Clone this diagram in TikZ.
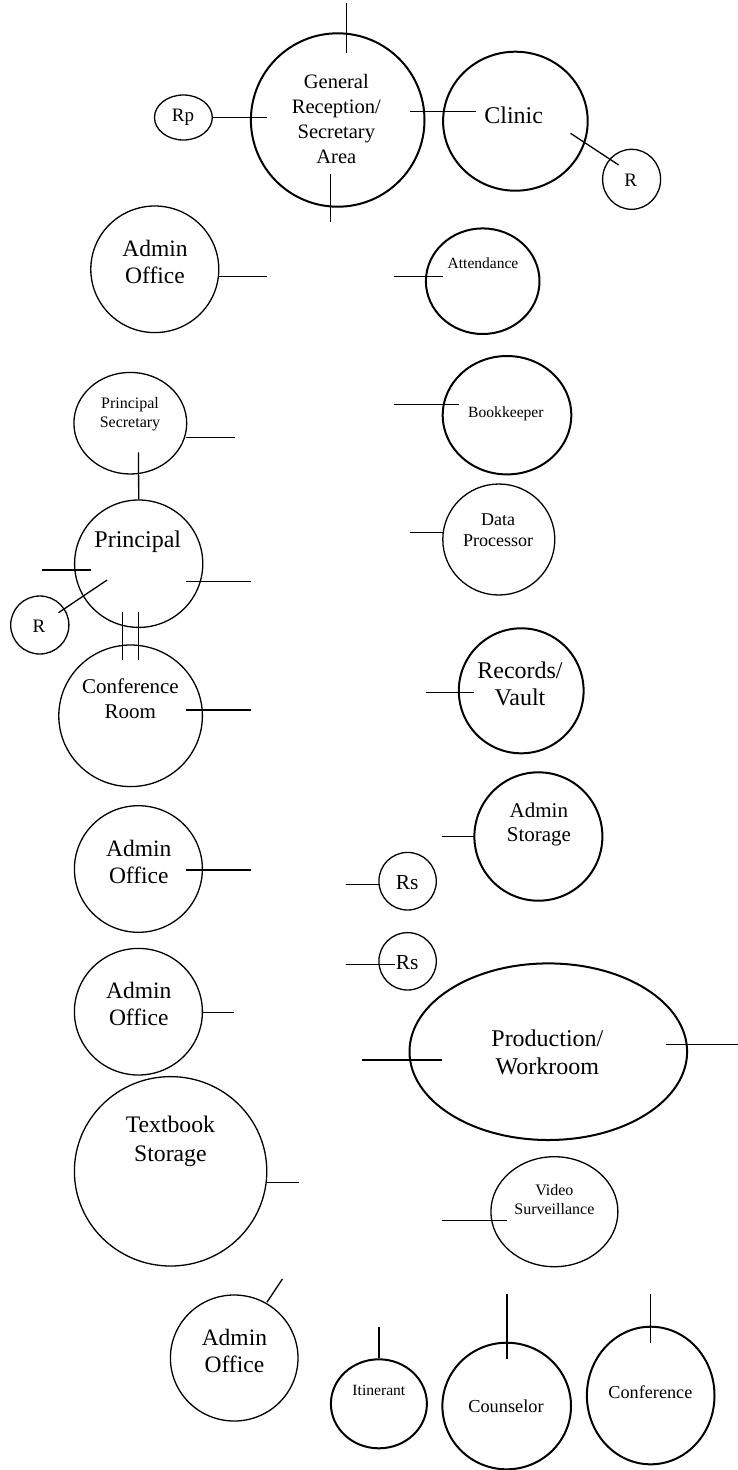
\documentclass[tikz,border=0pt]{standalone}
\usepackage{fontspec}
\setmainfont{Liberation Serif}
\usetikzlibrary{shapes.geometric}
\newcommand{\fs}[2]{\fontsize{#1}{#2}\selectfont}
\begin{document}
\begin{tikzpicture}[x=1pt,y=-1pt,
  room/.style={draw=black,ellipse,inner sep=0pt,line width=1.3pt},
  roomthick/.style={room,line width=2pt},
  txt/.style={align=center,inner sep=0pt,text=black},
  stub/.style={draw=black,line width=1.3pt}]
\useasboundingbox (0,0) rectangle (738,1470);
% --- rooms (ellipses) ---
\node[roomthick,minimum width=173.6pt,minimum height=173.4pt] (gen) at (337.7,120) {};
\node[roomthick,minimum width=144.6pt,minimum height=139pt] (clinic) at (515.4,121.2) {};
\node[room,minimum width=57.8pt,minimum height=45pt] (rp) at (183.4,117.5) {};
\node[room,minimum width=58pt,minimum height=60pt] (rc) at (631.6,179.3) {};
\node[room,minimum width=128pt,minimum height=126.6pt] (ao1) at (154.8,269.3) {};
\node[roomthick,minimum width=113.6pt,minimum height=105.6pt] (att) at (482.7,281.2) {};
\node[room,minimum width=112.8pt,minimum height=101.6pt] (psec) at (130.3,423.2) {};
\node[roomthick,minimum width=128.6pt,minimum height=118.4pt] (book) at (507,415.2) {};
\node[room,minimum width=128.2pt,minimum height=127.4pt] (prin) at (138.7,563.7) {};
\node[room,minimum width=58.2pt,minimum height=58pt] (rpr) at (39.8,625) {};
\node[room,minimum width=112pt,minimum height=111pt] (data) at (498.8,539.5) {};
\node[room,minimum width=143.6pt,minimum height=141.6pt] (conf) at (130.6,715.8) {};
\node[roomthick,minimum width=124.8pt,minimum height=125pt] (rec) at (521.2,690.8) {};
\node[roomthick,minimum width=128pt,minimum height=128.4pt] (astor) at (538.4,836.5) {};
\node[room,minimum width=128pt,minimum height=126.6pt] (ao2) at (138.4,869) {};
\node[room,minimum width=57.4pt,minimum height=57.6pt] (rs1) at (407.6,881.2) {};
\node[room,minimum width=57.4pt,minimum height=57.4pt] (rs2) at (407.6,961.3) {};
\node[room,minimum width=128pt,minimum height=126.6pt] (ao3) at (138.4,1011.7) {};
\node[roomthick,minimum width=277.6pt,minimum height=176.6pt] (prod) at (548.3,1051.7) {};
\node[room,minimum width=192.4pt,minimum height=189.4pt] (tb) at (170.6,1171.3) {};
\node[room,minimum width=127pt,minimum height=110pt] (video) at (554.4,1211.7) {};
\node[room,minimum width=127.6pt,minimum height=126pt] (ao4) at (234.2,1358) {};
\node[roomthick,minimum width=96pt,minimum height=89pt] (itin) at (378.9,1403.8) {};
\node[roomthick,minimum width=128.6pt,minimum height=126.6pt] (couns) at (506.7,1406) {};
\node[roomthick,minimum width=127.6pt,minimum height=137.6pt] (conf2) at (650.7,1395.5) {};
% --- labels ---
\node[txt,font=\fs{20.5}{25}] (gen-t) at (336.3,119.2) {General\\Reception/\\Secretary\\Area};
\node[txt,font=\fs{24}{28}] (clinic-t) at (513.7,115) {Clinic};
\node[txt,font=\fs{19}{22}] (rp-t) at (183,117.5) {Rp};
\node[txt,font=\fs{19}{22}] (rc-t) at (630.8,180) {R};
\node[txt,font=\fs{23.5}{27}] (ao1-t) at (155,261.7) {Admin\\Office};
\node[txt,font=\fs{15.5}{18}] (att-t) at (483,263.3) {Attendance};
\node[txt,font=\fs{16}{19}] (psec-t) at (130,414.5) {Principal\\Secretary};
\node[txt,font=\fs{15.6}{18}] (book-t) at (505.9,413.3) {Bookkeeper};
\node[txt,font=\fs{24}{28}] (prin-t) at (137.8,541.7) {Principal};
\node[txt,font=\fs{19}{22}] (rpr-t) at (39,626) {R};
\node[txt,font=\fs{18}{20.7}] (data-t) at (498.2,530.3) {Data\\Processor};
\node[txt,font=\fs{21}{24.3}] (conf-t) at (130.4,698.8) {Conference\\Room};
\node[txt,font=\fs{24}{27.7}] (rec-t) at (520,683.8) {Records/\\Vault};
\node[txt,font=\fs{21}{24}] (astor-t) at (538.9,824.7) {Admin\\Storage};
\node[txt,font=\fs{23.5}{27}] (ao2-t) at (138.8,862) {Admin\\Office};
\node[txt,font=\fs{21.4}{24}] (rs1-t) at (407.1,882.3) {Rs};
\node[txt,font=\fs{21.4}{24}] (rs2-t) at (407.1,962.3) {Rs};
\node[txt,font=\fs{23.5}{27}] (ao3-t) at (138.8,1003.8) {Admin\\Office};
\node[txt,font=\fs{24}{27.7}] (prod-t) at (547.4,1052.2) {Production/\\Workroom};
\node[txt,font=\fs{23.7}{29}] (tb-t) at (170.4,1141.3) {Textbook\\Storage};
\node[txt,font=\fs{16}{19}] (video-t) at (554.4,1199.5) {Video\\Surveillance};
\node[txt,font=\fs{23.5}{27}] (ao4-t) at (234.4,1350.8) {Admin\\Office};
\node[txt,font=\fs{15.6}{18}] (itin-t) at (378.9,1390) {Itinerant};
\node[txt,font=\fs{18.3}{21}] (couns-t) at (506,1406) {Counselor};
\node[txt,font=\fs{18.2}{21}] (conf2-t) at (650.4,1392.3) {Conference};
% --- stubs ---
\draw[stub] (346.6,3) coordinate (gen-n1) -- (346.6,53.3) coordinate (gen-n2);
\draw[stub] (330.5,174) coordinate (gen-s1) -- (330.5,221.7) coordinate (gen-s2);
\draw[stub] (rp.east) -- (267.4,117.5) coordinate (gen-w);
\draw[stub] (410.4,111.7) coordinate (gen-e) -- (475.8,111.7) coordinate (clinic-w);
\draw[stub] (570.5,133.3) coordinate (clinic-r) -- (618.7,165) coordinate (rc-a);
\draw[stub] (ao1.east |- 0,276.7) coordinate (ao1-a) -- (266.7,276.7) coordinate (ao1-b);
\draw[stub] (394,276.7) coordinate (att-a) -- (443,276.7) coordinate (att-b);
\draw[stub] (186,437.7) coordinate (psec-a) -- (235,437.7) coordinate (psec-b);
\draw[stub] (138.5,452.3) coordinate (psec-c) -- (prin.north);
\draw[stub] (394,404.3) coordinate (book-a) -- (459.2,404.3) coordinate (book-b);
\draw[stub] (42.1,570) coordinate (prin-w1) -- (91.1,570) coordinate (prin-w2);
\draw[stub] (186.4,581.7) coordinate (prin-e1) -- (251.4,581.7) coordinate (prin-e2);
\draw[stub] (107.1,580) coordinate (prin-r) -- (58.5,612.7) coordinate (rpr-a);
\draw[stub] (122.4,612.3) coordinate (pc1-a) -- (122.4,660) coordinate (pc1-b);
\draw[stub] (138.5,612.3) coordinate (pc2-a) -- (138.5,660) coordinate (pc2-b);
\draw[stub] (410.2,532.3) coordinate (data-a) -- (443.9,532.3) coordinate (data-b);
\draw[stub] (185.9,710) coordinate (conf-a) -- (250.9,710) coordinate (conf-b);
\draw[stub] (426,692.3) coordinate (rec-a) -- (474.4,692.3) coordinate (rec-b);
\draw[stub] (442.4,836.5) coordinate (astor-a) -- (474.4,836.5) coordinate (astor-b);
\draw[stub] (185.9,870) coordinate (ao2-a) -- (250.9,870) coordinate (ao2-b);
\draw[stub] (345.9,884.3) coordinate (rs1-a) -- (379.2,884.3) coordinate (rs1-b);
\draw[stub] (345.9,964.3) coordinate (rs2-a) -- (395.4,964.3) coordinate (rs2-b);
\draw[stub] (202.4,1012.3) coordinate (ao3-a) -- (234.4,1012.3) coordinate (ao3-b);
\draw[stub] (362.4,1060) coordinate (prod-a) -- (442.4,1060) coordinate (prod-b);
\draw[stub] (666,1044.3) coordinate (prod-c) -- (738,1044.3) coordinate (prod-d);
\draw[stub] (tb.east |- 0,1182.7) coordinate (tb-a) -- (298.9,1182.7) coordinate (tb-b);
\draw[stub] (442.4,1220.7) coordinate (video-a) -- (506.9,1220.7) coordinate (video-b);
\draw[stub] (282.4,1279) coordinate (ao4-a) -- (266.9,1302.3) coordinate (ao4-b);
\draw[stub] (378.9,1326.7) coordinate (itin-a) -- (itin.north);
\draw[stub] (506.9,1294.3) coordinate (couns-a) -- (506.9,1359.3) coordinate (couns-b);
\draw[stub] (650.4,1294.3) coordinate (conf2-a) -- (650.4,1343.3) coordinate (conf2-b);
\end{tikzpicture}
\end{document}
